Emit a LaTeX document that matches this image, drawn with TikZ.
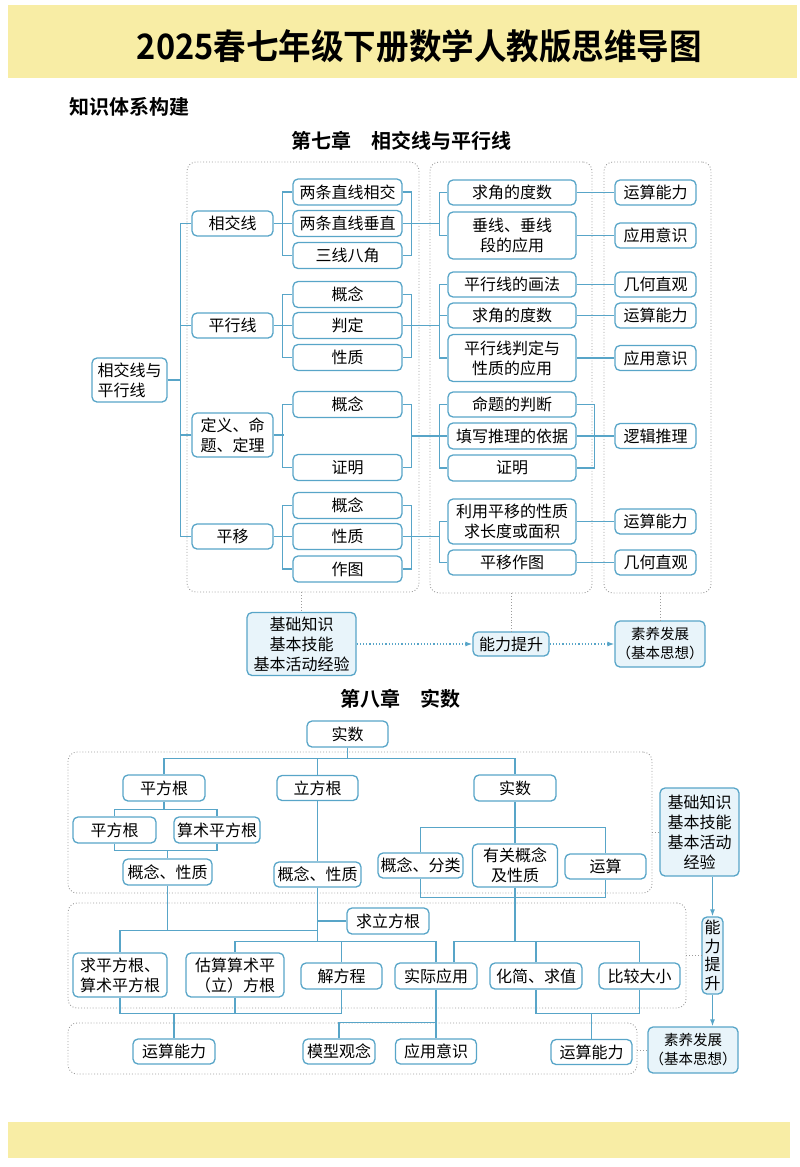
\documentclass[tikz,border=0pt]{standalone}
\usepackage{fontspec}
\setmainfont{Noto Sans CJK SC}[BoldFont={Noto Sans CJK SC Bold}]
\newfontfamily\titlefont{Noto Sans CJK SC Bold}[FakeStretch=0.93]
\usepackage{tikz}
\usetikzlibrary{arrows.meta,calc}
\definecolor{LineBlue}{RGB}{88,165,200}
\definecolor{SoftBlue}{RGB}{232,244,250}
\definecolor{FrameGray}{RGB}{155,155,155}
\definecolor{BandYellow}{RGB}{248,237,165}

\begin{document}
\begin{tikzpicture}[x=1pt, y=-1pt, every node/.style={font=\fontsize{16}{20}\selectfont},
  box/.style={draw=LineBlue, line width=1.3pt, rounded corners=5pt, fill=white, align=center, inner sep=1pt, minimum height=25pt},
  hibox/.style={box, fill=SoftBlue},
  lvone/.style={box, minimum width=81pt},
  lvtwo/.style={box, minimum width=109pt, minimum height=26pt},
  lvthree/.style={box, minimum width=128pt},
  lvfour/.style={box, minimum width=81pt},
  frame/.style={draw=FrameGray, dotted, line width=0.9pt, rounded corners=9pt, inner sep=0pt},
  link/.style={draw=LineBlue, line width=1.2pt},
  dotlink/.style={draw=FrameGray, dotted, line width=0.9pt},
  dotarrow/.style={draw=LineBlue, dotted, line width=1.2pt, -{Latex[length=7pt,width=5pt]}},
  heading/.style={font=\fontsize{20}{24}\bfseries}]
\useasboundingbox (0,0) rectangle (800,1167);
\fill[BandYellow] (8,5) rectangle (797,78);
\fill[BandYellow] (8,1122) rectangle (790,1158);
\node[font=\fontsize{35}{40}\titlefont] (title) at (419.5,46) {2025春七年级下册数学人教版思维导图};
\node[heading, anchor=west] (sect) at (66,107) {知识体系构建};
\node[heading] (chseven) at (401,141) {第七章\quad 相交线与平行线};
\node[heading] (cheight) at (400,699) {第八章\quad 实数};

\node[frame, minimum width=232pt, minimum height=430pt] (fA) at (303,377) {};
\node[frame, minimum width=162pt, minimum height=431pt] (fB) at (511,377.5) {};
\node[frame, minimum width=107pt, minimum height=431pt] (fC) at (657.5,377.5) {};

\node[box, minimum width=75pt, minimum height=44pt, align=left] (root) at (129.5,380) {相交线与\\平行线};
\node[lvone] (a1) at (232.5,223.5) {相交线};
\node[lvone] (a2) at (232.5,325.5) {平行线};
\node[lvone, minimum height=44pt] (a3) at (232.5,435) {定义、命\\题、定理};
\node[lvone] (a4) at (232.5,536.5) {平移};

\node[lvtwo] (b1) at (347.5,192) {两条直线相交};
\node[lvtwo] (b2) at (347.5,223.5) {两条直线垂直};
\node[lvtwo] (b3) at (347.5,255.5) {三线八角};
\node[lvtwo] (b4) at (347.5,294.5) {概念};
\node[lvtwo] (b5) at (347.5,325.5) {判定};
\node[lvtwo] (b6) at (347.5,357.5) {性质};
\node[lvtwo] (b7) at (347.5,404.5) {概念};
\node[lvtwo] (b8) at (347.5,467.5) {证明};
\node[lvtwo] (b9) at (347.5,505.5) {概念};
\node[lvtwo] (b10) at (347.5,536.5) {性质};
\node[lvtwo] (b11) at (347.5,569) {作图};

\node[lvthree] (c1) at (512,192.5) {求角的度数};
\node[lvthree, minimum height=47pt] (c2) at (512,235.5) {垂线、垂线\\段的应用};
\node[lvthree] (c3) at (512,284.5) {平行线的画法};
\node[lvthree] (c4) at (512,315.5) {求角的度数};
\node[lvthree, minimum height=47pt] (c5) at (512,358) {平行线判定与\\性质的应用};
\node[lvthree] (c6) at (512,404.5) {命题的判断};
\node[lvthree, minimum height=26pt] (c7) at (512,436) {填写推理的依据};
\node[lvthree, minimum height=26pt] (c8) at (512,468) {证明};
\node[lvthree, minimum height=45pt] (c9) at (512,521.5) {利用平移的性质\\求长度或面积};
\node[lvthree] (c10) at (512,562.5) {平移作图};

\node[lvfour] (d1) at (655.5,192.5) {运算能力};
\node[lvfour] (d2) at (655.5,235.5) {应用意识};
\node[lvfour] (d3) at (655.5,284.5) {几何直观};
\node[lvfour] (d4) at (655.5,315.5) {运算能力};
\node[lvfour] (d5) at (655.5,358) {应用意识};
\node[lvfour] (d6) at (655.5,436) {逻辑推理};
\node[lvfour] (d7) at (655.5,521.5) {运算能力};
\node[lvfour] (d8) at (655.5,562.5) {几何直观};

\node[hibox, minimum width=109pt, minimum height=63pt] (e1) at (301.5,644) {基础知识\\基本技能\\基本活动经验};
\node[hibox, minimum width=76pt, minimum height=24pt] (e2) at (511,644) {能力提升};
\node[hibox, minimum width=90pt, minimum height=46pt, font=\fontsize{14.5}{19}\selectfont] (e3) at (660,644) {素养发展\\（基本思想）};

\draw[link] (root.east) -- ++(12.5,0) coordinate (t0);
\draw[link] (a1.west) -| (t0);
\draw[link] (a2.west) -| (t0);
\draw[link] (a3.west) -| (t0);
\draw[link] (a4.west) -| (t0);

\draw[link] (a1.east) -- (b2.west);
\draw[link] (b1.west) -- ++(-10,0) |- (b3.west);
\draw[link] (a2.east) -- (b5.west);
\draw[link] (b4.west) -- ++(-10,0) |- (b6.west);
\draw[link] (a3.east) -- ++(10,0);
\draw[link] (b7.west) -- ++(-10,0) |- (b8.west);
\draw[link] (a4.east) -- (b10.west);
\draw[link] (b9.west) -- ++(-10,0) |- (b11.west);

\draw[link] (b1.east) -- ++(9,0) |- (b3.east);
\draw[link] (c1.west) -- ++(-8,0) coordinate (k1) |- (c2.west);
\draw[link] (b2.east) -- (b2.east -| k1);
\draw[link] (b4.east) -- ++(9,0) |- (b6.east);
\draw[link] (c3.west) -- ++(-8,0) coordinate (k2) |- (c5.west);
\draw[link] (b5.east) -- (b5.east -| k2);
\draw[link] (c4.west) -- (c4.west -| k2);
\draw[link] (b7.east) -- ++(9,0) coordinate (k3) |- (b8.east);
\draw[link] (c6.west) -- ++(-8,0) |- (c8.west);
\draw[link] (c7.west) -- (c7.west -| k3);
\draw[link] (b9.east) -- ++(9,0) |- (b11.east);
\draw[link] (c9.west) -- ++(-8,0) coordinate (k5) |- (c10.west);
\draw[link] (b10.east) -- (b10.east -| k5);

\draw[link] (c1.east) -- (d1.west);
\draw[link] (c2.east) -- (d2.west);
\draw[link] (c3.east) -- (d3.west);
\draw[link] (c4.east) -- (d4.west);
\draw[link] (c5.east) -- (d5.west);
\draw[link] (c6.east) -- ++(18,0) |- (c8.east);
\draw[link] (c7.east) -- (d6.west);
\draw[link] (c9.east) -- (d7.west);
\draw[link] (c10.east) -- (d8.west);

\draw[dotlink] (e1.north |- fA.south) -- (e1.north);
\draw[dotlink] (e2.north |- fB.south) -- (e2.north);
\draw[dotlink] (e3.north |- fC.south) -- (e3.north);
\draw[dotarrow] (e1) -- (e2);
\draw[dotarrow] (e2) -- (e3);

\node[frame, minimum width=584pt, minimum height=141pt] (fD) at (360,822.5) {};
\node[frame, minimum width=618pt, minimum height=105pt] (fE) at (377,955.5) {};
\node[frame, minimum width=569pt, minimum height=51pt] (fF) at (352.5,1048.5) {};

\node[box, minimum width=81pt, minimum height=26pt] (f0) at (347.5,734) {实数};
\node[box, minimum width=82pt, minimum height=26pt] (f1) at (164,788) {平方根};
\node[box, minimum width=81pt] (f2) at (317.5,788) {立方根};
\node[box, minimum width=82pt, minimum height=26pt] (f3) at (515,788) {实数};
\node[box, minimum width=83pt, minimum height=26pt] (g1) at (114.5,830) {平方根};
\node[box, minimum width=86pt, minimum height=26pt] (g2) at (217,830) {算术平方根};
\node[box, minimum width=89pt, minimum height=26pt] (g3) at (167.5,872) {概念、性质};
\node[box, minimum width=87pt] (g4) at (317.5,874.5) {概念、性质};
\node[box, minimum width=85pt] (g5) at (420.5,865.5) {概念、分类};
\node[box, minimum width=85pt, minimum height=43pt] (g6) at (515,865.5) {有关概念\\及性质};
\node[box, minimum width=81pt] (g7) at (605.5,866.5) {运算};
\node[box, minimum width=82pt, minimum height=26pt] (h0) at (388,921) {求立方根};
\node[box, minimum width=94pt, minimum height=44pt] (h1) at (120,975) {求平方根、\\算术平方根};
\node[box, minimum width=98pt, minimum height=44pt] (h2) at (235,975) {估算算术平\\（立）方根};
\node[box, minimum width=81pt, minimum height=26pt] (h3) at (341.5,976) {解方程};
\node[box, minimum width=82pt, minimum height=26pt] (h4) at (436,976) {实际应用};
\node[box, minimum width=92pt, minimum height=26pt] (h5) at (536,976) {化简、求值};
\node[box, minimum width=81pt, minimum height=26pt] (h6) at (639.5,976) {比较大小};
\node[box, minimum width=82pt] (q1) at (174,1051.5) {运算能力};
\node[box, minimum width=72pt] (q2) at (339,1051.5) {模型观念};
\node[box, minimum width=81pt] (q3) at (436,1051.5) {应用意识};
\node[box, minimum width=81pt] (q4) at (591.5,1052) {运算能力};
\node[hibox, minimum width=79pt, minimum height=88pt] (m1) at (699.5,832) {基础知识\\基本技能\\基本活动\\经验};
\node[hibox, minimum width=21pt, minimum height=77pt, font=\fontsize{16}{18.5}\selectfont] (m2) at (712.5,955.5) {能\\力\\提\\升};
\node[hibox, minimum width=90pt, minimum height=46pt, font=\fontsize{14.5}{19}\selectfont] (m3) at (693,1050) {素养发展\\（基本思想）};

\coordinate (j0) at ($(f0.south)+(0,11)$);
\draw[link] (f0.south) -- (j0);
\draw[link] (f1.north) |- (j0);
\draw[link] (f3.north) |- (j0);
\draw[link] (f2.north) -- (f2.north |- j0);
\coordinate (j1) at ($(f1.south)+(0,8)$);
\draw[link] (f1.south) -- (j1);
\draw[link] (g1.north) |- (j1);
\draw[link] (g2.north) |- (j1);
\coordinate (j2) at ($(g3.north)+(0,-8)$);
\draw[link] (g1.south) |- (j2);
\draw[link] (g2.south) |- (j2);
\draw[link] (j2) -- (g3.north);
\draw[link] (f2.south) -- (g4.north);
\coordinate (j3) at ($(f3.south)+(0,26)$);
\draw[link] (f3.south) -- (g6.north);
\draw[link] (g5.north) |- (j3);
\draw[link] (g7.north) |- (j3);
\coordinate (j4) at ($(g6.south)+(0,10)$);
\draw[link] (g5.south) |- (j4);
\draw[link] (g7.south) |- (j4);
\coordinate (j6) at ($(g6.south)+(0,54)$);
\draw[link] (g6.south) -- (j6);
\draw[link] ($(h4.north)+(18,0)$) |- (j6);
\draw[link] (h5.north) |- (j6);
\draw[link] (h6.north) |- (j6);

\coordinate (j5) at ($(g4.south)+(0,54)$);
\draw[link] (g4.south) -- (j5);
\draw[link] (h0.west) -- (h0.west -| j5);
\coordinate (j7) at ($(g3.south)+(0,45)$);
\draw[link] (g3.south) -- (j7);
\draw[link] (h1.north) |- (j7) -- (j7 -| j5);
\draw[link] (h2.north) |- (j5);
\draw[link] (h3.north) |- (j5);
\draw[link] (h4.north) |- (j5);

\coordinate (j8) at ($(q1.north)+(0,-25)$);
\draw[link] (h1.south) |- (j8);
\draw[link] (h2.south) |- (j8);
\draw[link] (h3.south) |- (j8);
\draw[link] (j8) -- (q1.north);
\coordinate (j9) at ($(h4.south)+(0,33)$);
\draw[link] (h4.south) -- (q3.north);
\draw[link] (q2.north) |- (j9);
\coordinate (j10) at ($(q4.north)+(0,-25)$);
\draw[link] (h5.south) |- (j10);
\draw[link] (h6.south) |- (j10);
\draw[link] (j10) -- (q4.north);

\draw[link, -{Latex[length=7pt,width=5pt]}] (m1.south -| m2.north) -- (m2.north);
\draw[link, -{Latex[length=7pt,width=5pt]}] (m2.south) -- (m2.south |- m3.north);
\draw[dotlink] (m1.west -| fD.east) -- (m1.west);
\draw[dotlink] (m2.west -| fE.east) -- (m2.west);
\draw[dotlink] (m3.west -| fF.east) -- (m3.west);
\end{tikzpicture}
\end{document}
